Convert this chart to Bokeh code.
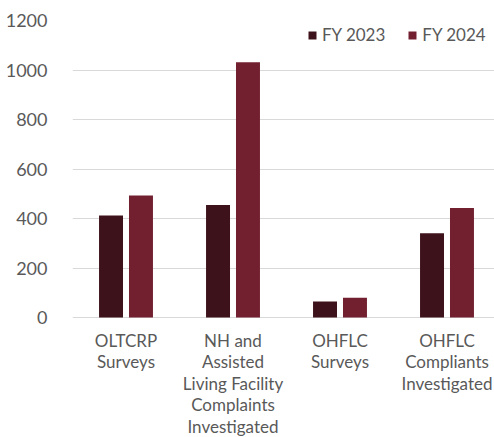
from bokeh.plotting import figure
from bokeh.models import ColumnDataSource, Legend, LegendItem, FixedTicker, Range1d
from bokeh.core.properties import value
from bokeh.embed import file_html
from bokeh.resources import INLINE

categories = ["OLTCRP\nSurveys", "NH and\nAssisted\nLiving Facility\nComplaints\nInvestigated",
              "OHFLC\nSurveys", "OHFLC\nCompliants\nInvestigated"]
fy2023 = [412, 455, 65, 340]
fy2024 = [493, 1031, 80, 442]
series_names = ["FY 2023", "FY 2024"]
colors = ["#3e121b", "#72202f"]
y_ticks = [0, 200, 400, 600, 800, 1000, 1200]

FONT = "Lato"
TXT = "#595959"

# layout (pixels)
W, H = 494, 437
LEFT, TOP = 72, 20
PLOT_H = 297          # pixels from 0 to 1200
CAT_W = 107           # pixels per category
px_per_unit = PLOT_H / 1200.0
y_start = -(H - TOP - PLOT_H) / px_per_unit
x_end = -0.5 + (W - LEFT) / CAT_W

xs = list(range(len(categories)))
src = ColumnDataSource(dict(
    x23=[x - 0.14 for x in xs], x24=[x + 0.14 for x in xs],
    y23=fy2023, y24=fy2024))
lab_src = ColumnDataSource(dict(x=xs, y=[0] * len(xs), text=categories))

p = figure(width=W, height=H, output_backend="svg", toolbar_location=None,
           x_range=Range1d(-0.5, x_end), y_range=Range1d(y_start, 1200),
           min_border_left=LEFT, min_border_right=0, min_border_top=TOP, min_border_bottom=0)
p.outline_line_color = None
p.background_fill_color = "white"
p.xaxis.visible = False

r1 = p.vbar(x="x23", top="y23", width=0.224, source=src, color=colors[0], line_color=None)
r2 = p.vbar(x="x24", top="y24", width=0.224, source=src, color=colors[1], line_color=None)

p.text(x="x", y="y", text="text", source=lab_src, text_align="center", text_baseline="top",
       y_offset=12, text_font=value(FONT), text_font_size="17px", text_color=TXT,
       text_line_height=1.025)

p.xgrid.grid_line_color = None
p.ygrid.grid_line_color = "#d9d9d9"
p.ygrid.grid_line_width = 1
p.ygrid.ticker = FixedTicker(ticks=y_ticks)

p.yaxis.ticker = FixedTicker(ticks=y_ticks)
p.yaxis.axis_line_color = None
p.yaxis.major_tick_line_color = None
p.yaxis.minor_tick_line_color = None
p.yaxis.major_label_text_font = FONT
p.yaxis.major_label_text_font_size = "18px"
p.yaxis.major_label_text_color = TXT
p.yaxis.major_label_standoff = 19

legend = Legend(items=[LegendItem(label=series_names[0], renderers=[r1]),
                       LegendItem(label=series_names[1], renderers=[r2])],
                orientation="horizontal", location=(235, H - 45),
                glyph_width=10, glyph_height=10, label_standoff=5, spacing=22,
                label_width=60, label_height=18,
                padding=0, margin=0, border_line_color=None, background_fill_alpha=0,
                label_text_font=FONT, label_text_font_size="17px", label_text_color=TXT)
p.add_layout(legend)

open("out.html", "w").write(file_html(p, INLINE))
